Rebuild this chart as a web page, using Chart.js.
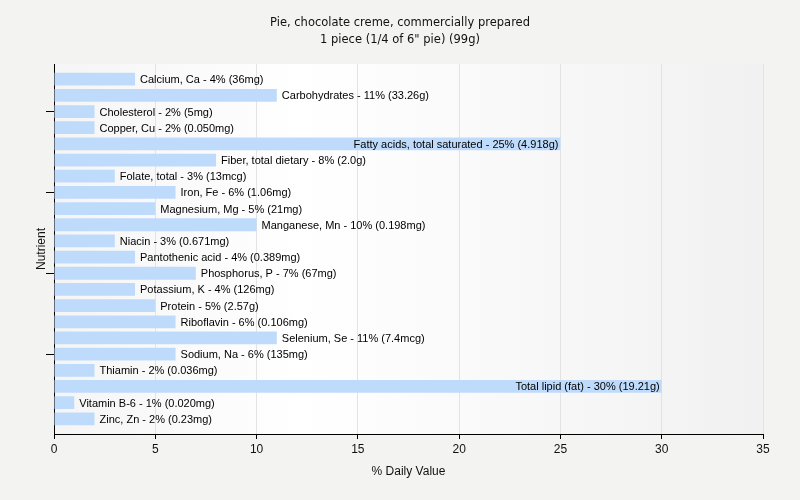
<!DOCTYPE html>
<html>
<head>
<meta charset="utf-8">
<script src="https://cdn.jsdelivr.net/npm/chart.js@4"></script>
<style>
  html, body { margin: 0; padding: 0; background: #f3f3f2; }
  #chart { display: block; }
</style>
</head>
<body>
<canvas id="chart" width="800" height="500"></canvas>
<script>
// nutrient names, % daily value, amount per serving
var nutrients = ["Calcium, Ca", "Carbohydrates", "Cholesterol", "Copper, Cu", "Fatty acids, total saturated",
  "Fiber, total dietary", "Folate, total", "Iron, Fe", "Magnesium, Mg", "Manganese, Mn", "Niacin",
  "Pantothenic acid", "Phosphorus, P", "Potassium, K", "Protein", "Riboflavin", "Selenium, Se",
  "Sodium, Na", "Thiamin", "Total lipid (fat)", "Vitamin B-6", "Zinc, Zn"];
var dailyValues = [4, 11, 2, 2, 25, 8, 3, 6, 5, 10, 3, 4, 7, 4, 5, 6, 11, 6, 2, 30, 1, 2];
var amounts = ["36mg", "33.26g", "5mg", "0.050mg", "4.918g", "2.0g", "13mcg", "1.06mg", "21mg", "0.198mg",
  "0.671mg", "0.389mg", "67mg", "126mg", "2.57g", "0.106mg", "7.4mcg", "135mg", "0.036mg", "19.21g",
  "0.020mg", "0.23mg"];
var xTicks = [0, 5, 10, 15, 20, 25, 30, 35];
var yTickRows = [2, 7, 12, 17];

var title1 = "Pie, chocolate creme, commercially prepared";
var title2 = "1 piece (1/4 of 6\" pie) (99g)";

var points = dailyValues.map(function (v, i) { return {x: v, y: i}; });

var decor = {
  id: 'decor',
  beforeDraw: function (chart) {
    var c = chart.ctx, a = chart.chartArea;
    var g = c.createLinearGradient(a.left, 0, a.right, 0);
    g.addColorStop(0, '#f5f5f5');
    g.addColorStop(0.35, '#ffffff');
    g.addColorStop(1, '#f1f1f1');
    c.save();
    c.fillStyle = g;
    c.fillRect(a.left, a.top, a.right - a.left, a.bottom - a.top);
    c.restore();
  },
  afterDatasetsDraw: function (chart) {
    var c = chart.ctx, a = chart.chartArea;
    var meta = chart.getDatasetMeta(0);
    c.save();
    c.font = '11px "Liberation Sans", Arial, sans-serif';
    c.fillStyle = '#000';
    c.textBaseline = 'middle';
    meta.data.forEach(function (bar, i) {
      var txt = nutrients[i] + ' - ' + dailyValues[i] + '% (' + amounts[i] + ')';
      var w = c.measureText(txt).width;
      if (bar.x + 5 + w > a.right) {
        c.textAlign = 'right';
        c.fillText(txt, bar.x - 2, bar.y + 1);
      } else {
        c.textAlign = 'left';
        c.fillText(txt, bar.x + 5, bar.y + 1);
      }
    });
    // titles
    c.textAlign = 'center';
    c.fillStyle = '#111';
    c.font = '11.5px "DejaVu Sans", sans-serif';
    c.fillText(title1, 400, 23);
    c.fillText(title2, 400, 40);
    c.font = '12px "Liberation Sans", Arial, sans-serif';
    c.fillText('% Daily Value', (a.left + a.right) / 2, 472);
    c.translate(42, (a.top + a.bottom) / 2);
    c.rotate(-Math.PI / 2);
    c.fillText('Nutrient', 0, 0);
    c.restore();
  }
};

new Chart(document.getElementById('chart'), {
  type: 'bar',
  data: {
    datasets: [{
      data: points,
      backgroundColor: '#bfdbfb',
      borderWidth: 0,
      barPercentage: 0.79,
      categoryPercentage: 1
    }]
  },
  options: {
    indexAxis: 'y',
    responsive: false,
    animation: false,
    layout: { padding: { top: 64, right: 37, left: 0, bottom: 0 } },
    plugins: { legend: { display: false }, tooltip: { enabled: false }, title: { display: false } },
    scales: {
      x: {
        type: 'linear',
        min: 0, max: 35,
        afterBuildTicks: function (s) { s.ticks = xTicks.map(function (v) { return {value: v}; }); },
        afterFit: function (s) { s.height = 66; },
        grid: { color: '#e3e3e3', tickColor: '#000', tickLength: 5 },
        border: { color: '#000' },
        ticks: { color: '#111', padding: 3, font: { family: '"Liberation Sans", Arial', size: 12 } }
      },
      y: {
        type: 'linear',
        reverse: true,
        offset: false,
        min: -0.94, max: 21.94,
        afterBuildTicks: function (s) { s.ticks = yTickRows.map(function (v) { return {value: v}; }); },
        afterFit: function (s) { s.width = 54; },
        grid: { offset: false, drawOnChartArea: false, tickColor: '#000', tickLength: 8 },
        border: { color: '#000' },
        ticks: { display: false }
      }
    }
  },
  plugins: [decor]
});
</script>
</body>
</html>
